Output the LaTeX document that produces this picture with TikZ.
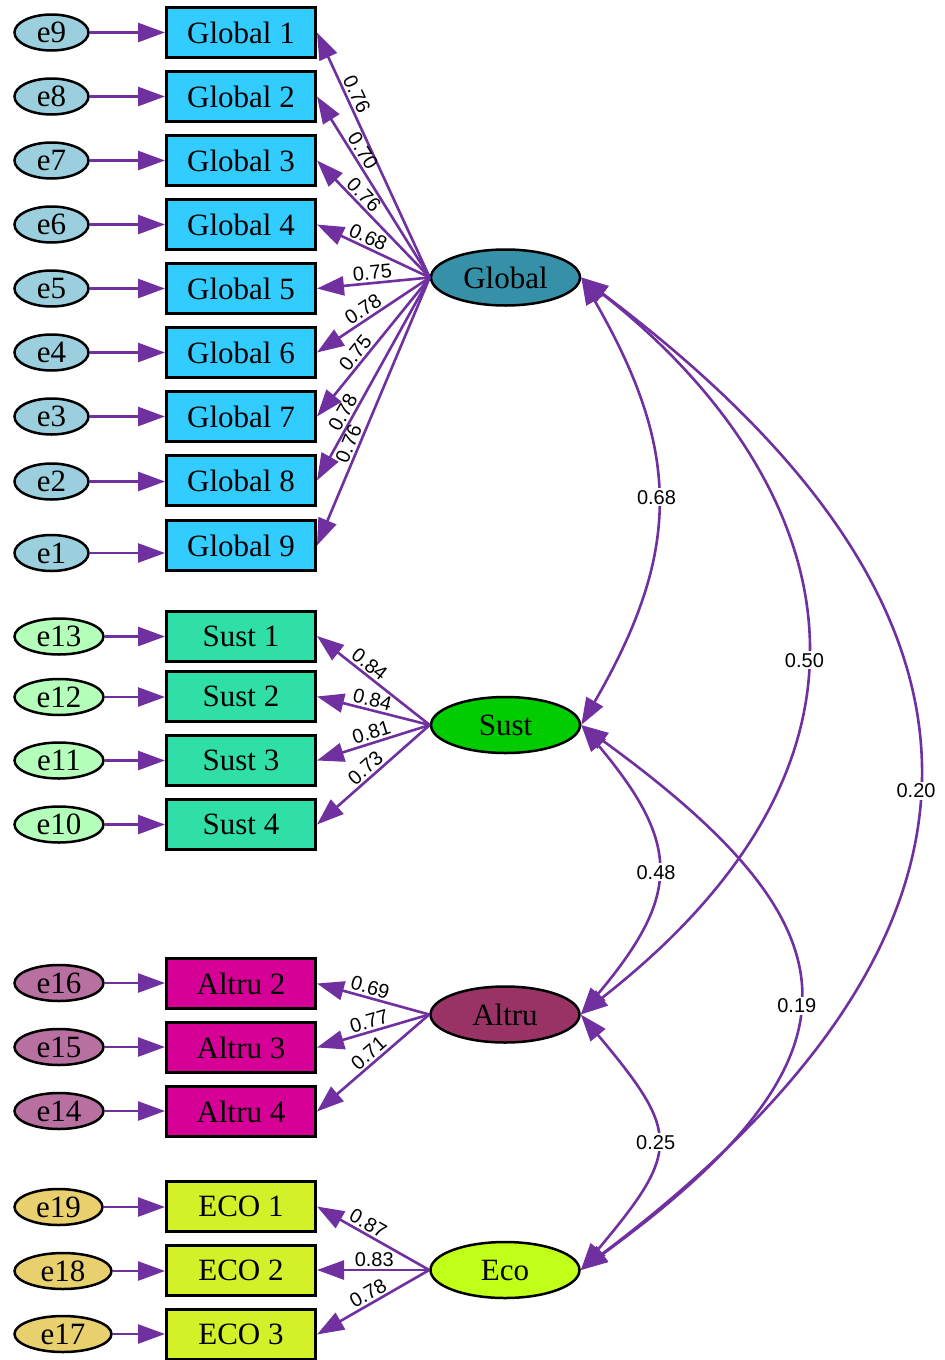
\documentclass[tikz,border=0pt]{standalone}
\usepackage{fontspec}
\setmainfont{Liberation Serif}
\newfontfamily\numfont{Liberation Sans}
\usetikzlibrary{shapes.geometric,arrows.meta}
\definecolor{arr}{RGB}{112,48,160}
\definecolor{errblue}{RGB}{155,207,222}
\definecolor{gboxc}{RGB}{51,204,255}
\definecolor{glatc}{RGB}{53,144,168}
\definecolor{errgreen}{RGB}{180,255,185}
\definecolor{sboxc}{RGB}{48,222,168}
\definecolor{slatc}{RGB}{0,204,0}
\definecolor{errpink}{RGB}{184,112,160}
\definecolor{aboxc}{RGB}{214,0,150}
\definecolor{alatc}{RGB}{153,51,102}
\definecolor{erryel}{RGB}{232,208,110}
\definecolor{eboxc}{RGB}{212,240,40}
\definecolor{elatc}{RGB}{192,255,24}
\begin{document}
\begin{tikzpicture}[x=1pt,y=1pt,
  txt/.style={font=\fontsize{31}{31}\selectfont},
  obsbox/.style={txt, rectangle, draw=black, line width=3pt, minimum width=149pt, minimum height=50pt, inner sep=0pt},
  errnode/.style={txt, ellipse, draw=black, line width=2.5pt, minimum height=36pt, inner sep=0pt},
  latnode/.style={txt, ellipse, draw=black, line width=2.5pt, minimum width=149pt, minimum height=56pt, inner sep=0pt},
  pth/.style={draw=arr, line width=2.6pt, -{Triangle[length=27pt,width=19pt]}},
  cov/.style={draw=arr, line width=2.6pt, {Triangle[length=27pt,width=19pt]}-{Triangle[length=27pt,width=19pt]}},
  lbl/.style={font=\numfont\fontsize{20}{20}\selectfont, sloped, above, inner sep=2pt},
  clbl/.style={font=\numfont\fontsize{20}{20}\selectfont, fill=white, inner sep=2pt}
]
\useasboundingbox (0,-1360) rectangle (945,0);

% Global group
\node[obsbox, fill=gboxc] (G1) at (241,-32.5) {Global 1};
\node[obsbox, fill=gboxc] (G2) at (241,-96.5) {Global 2};
\node[obsbox, fill=gboxc] (G3) at (241,-160.5) {Global 3};
\node[obsbox, fill=gboxc] (G4) at (241,-224.5) {Global 4};
\node[obsbox, fill=gboxc] (G5) at (241,-288.5) {Global 5};
\node[obsbox, fill=gboxc] (G6) at (241,-352.5) {Global 6};
\node[obsbox, fill=gboxc] (G7) at (241,-416.5) {Global 7};
\node[obsbox, fill=gboxc] (G8) at (241,-480.5) {Global 8};
\node[obsbox, fill=gboxc] (G9) at (241,-545.5) {Global 9};

\node[errnode, fill=errblue, minimum width=74pt] (e9) at (51.5,-32.5) {e9};
\node[errnode, fill=errblue, minimum width=74pt] (e8) at (51.5,-96.5) {e8};
\node[errnode, fill=errblue, minimum width=74pt] (e7) at (51.5,-160.5) {e7};
\node[errnode, fill=errblue, minimum width=74pt] (e6) at (51.5,-224.5) {e6};
\node[errnode, fill=errblue, minimum width=74pt] (e5) at (51.5,-288.5) {e5};
\node[errnode, fill=errblue, minimum width=74pt] (e4) at (51.5,-352.5) {e4};
\node[errnode, fill=errblue, minimum width=74pt] (e3) at (51.5,-416.5) {e3};
\node[errnode, fill=errblue, minimum width=74pt] (e2) at (51.5,-481.5) {e2};
\node[errnode, fill=errblue, minimum width=74pt] (e1) at (51.5,-553) {e1};

\node[latnode, fill=glatc] (Global) at (505.5,-277.5) {Global};

% Sust group
\node[obsbox, fill=sboxc] (S1) at (241,-636) {Sust 1};
\node[obsbox, fill=sboxc] (S2) at (241,-696.5) {Sust 2};
\node[obsbox, fill=sboxc] (S3) at (241,-760.5) {Sust 3};
\node[obsbox, fill=sboxc] (S4) at (241,-824.5) {Sust 4};
\node[errnode, fill=errgreen, minimum width=89pt] (e13) at (59,-636.5) {e13};
\node[errnode, fill=errgreen, minimum width=89pt] (e12) at (59,-697) {e12};
\node[errnode, fill=errgreen, minimum width=89pt] (e11) at (59,-760.5) {e11};
\node[errnode, fill=errgreen, minimum width=89pt] (e10) at (59,-824.5) {e10};
\node[latnode, fill=slatc] (Sust) at (505.5,-725) {Sust};

% Altru group
\node[obsbox, fill=aboxc] (A2) at (241,-983.5) {Altru 2};
\node[obsbox, fill=aboxc] (A3) at (241,-1047.5) {Altru 3};
\node[obsbox, fill=aboxc] (A4) at (241,-1111.5) {Altru 4};
\node[errnode, fill=errpink, minimum width=89pt] (e16) at (59,-983) {e16};
\node[errnode, fill=errpink, minimum width=89pt] (e15) at (59,-1047) {e15};
\node[errnode, fill=errpink, minimum width=89pt] (e14) at (59,-1111) {e14};
\node[latnode, fill=alatc] (Altru) at (505,-1014.5) {Altru};

% Eco group
\node[obsbox, fill=eboxc] (E1) at (241,-1206.5) {ECO 1};
\node[obsbox, fill=eboxc] (E2) at (241,-1270) {ECO 2};
\node[obsbox, fill=eboxc] (E3) at (241,-1334.5) {ECO 3};
\node[errnode, fill=erryel, minimum width=88pt] (e19) at (58.5,-1207) {e19};
\node[errnode, fill=erryel, minimum width=97pt] (e18) at (63,-1271) {e18};
\node[errnode, fill=erryel, minimum width=97pt] (e17) at (63,-1334) {e17};
\node[latnode, fill=elatc] (Eco) at (505,-1270) {Eco};

% error arrows
\foreach \e/\b in {e9/G1,e8/G2,e7/G3,e6/G4,e5/G5,e4/G6,e3/G7,e2/G8,e13/S1,e12/S2,e11/S3,e10/S4,e16/A2,e15/A3,e14/A4,e19/E1,e18/E2,e17/E3}
  \draw[pth] (\e.east) -- (\e.east -| \b.west);
\draw[pth] (e1.east) -- (e1.east -| G9.west);

% loadings
\draw[pth] (Global.west) -- node[lbl,pos=0.73]{0.76} (G1.east);
\draw[pth] (Global.west) -- node[lbl,pos=0.67]{0.70} (G2.east);
\draw[pth] (Global.west) -- node[lbl,pos=0.65]{0.76} (G3.east);
\draw[pth] (Global.west) -- node[lbl,pos=0.585]{0.68} (G4.east);
\draw[pth] (Global.west) -- node[lbl,pos=0.50]{0.75} (G5.east);
\draw[pth] (Global.west) -- node[lbl,pos=0.54]{0.78} (G6.east);
\draw[pth] (Global.west) -- node[lbl,pos=0.59]{0.75} (G7.east);
\draw[pth] (Global.west) -- node[lbl,pos=0.69]{0.78} (G8.east);
\draw[pth] (Global.west) -- node[lbl,pos=0.635]{0.76} (G9.east);

\draw[pth] (Sust.west) -- node[lbl,pos=0.59]{0.84} (S1.east);
\draw[pth] (Sust.west) -- node[lbl,pos=0.53]{0.84} (S2.east);
\draw[pth] (Sust.west) -- node[lbl,pos=0.49]{0.81} (S3.east);
\draw[pth] (Sust.west) -- node[lbl,pos=0.51]{0.73} (S4.east);

\draw[pth] (Altru.west) -- node[lbl,pos=0.55]{0.69} (A2.east);
\draw[pth] (Altru.west) -- node[lbl,pos=0.51]{0.77} (A3.east);
\draw[pth] (Altru.west) -- node[lbl,pos=0.48]{0.71} (A4.east);

\draw[pth] (Eco.west) -- node[lbl,pos=0.59]{0.87} (E1.east);
\draw[pth] (Eco.west) -- node[lbl,pos=0.49]{0.83} (E2.east);
\draw[pth] (Eco.west) -- node[lbl,pos=0.50]{0.78} (E3.east);

% covariances
\draw[cov] (Global.east) to[out=-60,in=60,looseness=1.15] node[clbl,pos=0.49]{0.68} (Sust.east);
\draw[cov] (Global.east) to[out=-38,in=38,out looseness=1.0,in looseness=1.6] node[clbl,pos=0.57]{0.50} (Altru.east);
\draw[cov] (Global.east) to[out=-37,in=37,out looseness=1.06,in looseness=1.79] node[clbl,pos=0.58]{0.20} (Eco.east);
\draw[cov] (Sust.east) to[out=-50,in=50,looseness=1.38] node[clbl,pos=0.51]{0.48} (Altru.east);
\draw[cov] (Sust.east) to[out=-36,in=36,out looseness=1.6,in looseness=1.75] node[clbl,pos=0.53]{0.19} (Eco.east);
\draw[cov] (Altru.east) to[out=-50,in=50,looseness=1.56] node[clbl,pos=0.5]{0.25} (Eco.east);
\end{tikzpicture}
\end{document}
